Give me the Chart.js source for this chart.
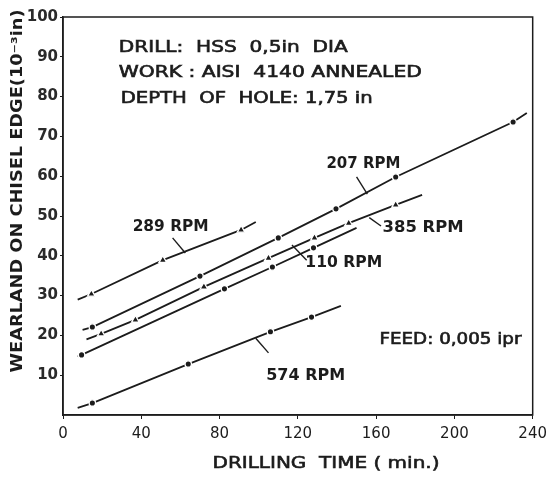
<!DOCTYPE html>
<html>
<head>
<meta charset="utf-8">
<script src="https://cdn.jsdelivr.net/npm/chart.js@4.4.1/dist/chart.umd.min.js"></script>
<style>
  html, body { margin: 0; padding: 0; background: #fff; }
  #wrap { width: 553px; height: 477px; }
</style>
</head>
<body>
<div id="wrap"><canvas id="wear"></canvas></div>
<script>
// Chisel edge wearland (10^-3 in) against drilling time (min), one pair per spindle speed.
// First/last entries are where the drawn line stops, the rest are measured points.
const time289 = [7.5, 14.5, 51, 91, 98.5];
const wear289 = [29.0, 30.4, 38.9, 46.5, 48.5];

const time207 = [10, 15, 70, 110, 139.5, 170, 230, 237];
const wear207 = [21.4, 22.1, 34.9, 44.5, 51.8, 59.8, 73.6, 75.9];

const time385 = [12, 19.5, 37, 72, 105, 128.5, 146, 170, 183.5];
const wear385 = [19.0, 20.4, 23.9, 32.2, 39.4, 44.5, 48.2, 52.8, 55.3];

const time110 = [7.5, 9.5, 82.5, 107, 128, 150];
const wear110 = [14.7, 15.1, 31.7, 37.2, 42.0, 47.0];

const time574 = [7.5, 15, 64, 106, 127, 142];
const wear574 = [1.8, 3.0, 12.8, 20.9, 24.6, 27.4];

const xTicks = [0, 40, 80, 120, 160, 200, 240];
const yTicks = [10, 20, 30, 40, 50, 60, 70, 80, 90, 100];

const INK = '#1c1c1c';
const FONT = '"DejaVu Sans", "Liberation Sans", sans-serif';

function pairs(xs, ys) {
  return xs.map((x, i) => ({ x, y: ys[i] }));
}

function series(label, xs, ys, shape) {
  const r = shape === 'triangle' ? 4.4 : 3.2;
  return {
    label,
    data: pairs(xs, ys),
    showLine: true,
    borderColor: INK,
    borderWidth: 1.8,
    pointStyle: shape,
    // line ends carry no marker; the white ring breaks the line round each point
    pointRadius: ctx => (ctx.dataIndex === 0 || ctx.dataIndex === xs.length - 1) ? 0 : r,
    pointBackgroundColor: INK,
    pointBorderColor: '#fff',
    pointBorderWidth: 1.3,
    tension: 0
  };
}

// text notes: [text, x, y, width in px, bold, align]
const notes = [
  ['DRILL:  HSS  0,5in  DIA', 28.5, 92.3, 229, false, 'left'],
  ['WORK : AISI  4140 ANNEALED', 28.5, 85.8, 303, false, 'left'],
  ['DEPTH  OF  HOLE: 1,75 in', 29.5, 79.3, 252, false, 'left'],
  ['289 RPM', 55, 47.2, 76, true, 'center'],
  ['207 RPM', 153.5, 63, 74, true, 'center'],
  ['385 RPM', 184, 47, 81, true, 'center'],
  ['110 RPM', 143.5, 38.2, 77, true, 'center'],
  ['574 RPM', 124, 9.8, 79, true, 'center'],
  ['FEED: 0,005 ipr', 198, 18.8, 142, false, 'center']
];

// leader strokes from each label to its line: [x1, y1, x2, y2]
const leaders = [
  [56, 44.5, 62.5, 40.7],
  [150, 59.8, 155.5, 55.5],
  [162.5, 47.5, 156.5, 49.6],
  [124.5, 38.9, 117, 42.7],
  [105, 15.6, 98.5, 19.3]
];

function fitText(ctx, text, x, y, width, align, heavy) {
  const w = ctx.measureText(text).width;
  ctx.save();
  ctx.translate(x, y);
  ctx.scale(width / w, 1);
  ctx.textAlign = align;
  ctx.fillText(text, 0, 0);
  if (heavy) {
    ctx.lineWidth = 0.6;
    ctx.strokeText(text, 0, 0);
  }
  ctx.restore();
}

const sheetPlugin = {
  id: 'sheet',
  beforeDraw(chart) {
    const ctx = chart.ctx;
    ctx.save();
    ctx.fillStyle = '#fff';
    ctx.fillRect(0, 0, chart.width, chart.height);
    ctx.restore();
  },
  afterDatasetsDraw(chart) {
    const { ctx, chartArea: a, scales: { x, y } } = chart;
    ctx.save();
    // frame
    ctx.strokeStyle = INK;
    ctx.lineWidth = 1.5;
    ctx.strokeRect(a.left, a.top, a.right - a.left, a.bottom - a.top);

    // leaders
    ctx.lineWidth = 1.4;
    leaders.forEach(([x1, y1, x2, y2]) => {
      ctx.beginPath();
      ctx.moveTo(x.getPixelForValue(x1), y.getPixelForValue(y1));
      ctx.lineTo(x.getPixelForValue(x2), y.getPixelForValue(y2));
      ctx.stroke();
    });

    // notes
    ctx.fillStyle = INK;
    ctx.textBaseline = 'middle';
    notes.forEach(([text, tx, ty, w, bold, align]) => {
      ctx.font = (bold ? 'bold ' : '') + '15px ' + FONT;
      fitText(ctx, text, x.getPixelForValue(tx), y.getPixelForValue(ty), w, align, !bold);
    });

    // axis titles
    ctx.font = '16px ' + FONT;
    fitText(ctx, 'DRILLING  TIME ( min.)', 326, 464, 227, 'center', true);
    ctx.font = 'bold 15px ' + FONT;
    ctx.translate(18, 191);
    ctx.rotate(-Math.PI / 2);
    fitText(ctx, 'WEARLAND ON CHISEL EDGE(10⁻³in)', 0, 0, 363, 'center', false);
    ctx.restore();
  }
};

new Chart(document.getElementById('wear'), {
  type: 'scatter',
  data: {
    datasets: [
      series('289 RPM', time289, wear289, 'triangle'),
      series('207 RPM', time207, wear207, 'circle'),
      series('385 RPM', time385, wear385, 'triangle'),
      series('110 RPM', time110, wear110, 'circle'),
      series('574 RPM', time574, wear574, 'circle')
    ]
  },
  options: {
    responsive: true,
    maintainAspectRatio: false,
    animation: false,
    layout: { padding: { left: 0, top: 17, right: 11, bottom: 0 } },
    plugins: {
      legend: { display: false },
      tooltip: { enabled: false }
    },
    scales: {
      x: {
        type: 'linear',
        min: 0,
        max: 240,
        afterFit: s => { s.height = 62; },
        afterBuildTicks: s => { s.ticks = xTicks.map(v => ({ value: v })); },
        grid: { display: true, drawOnChartArea: false, tickLength: 4, color: INK },
        border: { display: true, color: INK, width: 1.5 },
        ticks: { color: INK, padding: 6, font: { family: FONT, size: 15 } }
      },
      y: {
        type: 'linear',
        min: 0,
        max: 100,
        afterFit: s => { s.width = 63; },
        afterBuildTicks: s => { s.ticks = yTicks.map(v => ({ value: v })); },
        grid: { display: true, drawOnChartArea: false, tickLength: 3, color: INK },
        border: { display: true, color: INK, width: 1.5 },
        ticks: { color: '#2a2a2a', padding: 2, font: { family: FONT, size: 15, weight: 'bold' } }
      }
    }
  },
  plugins: [sheetPlugin]
});
</script>
</body>
</html>
